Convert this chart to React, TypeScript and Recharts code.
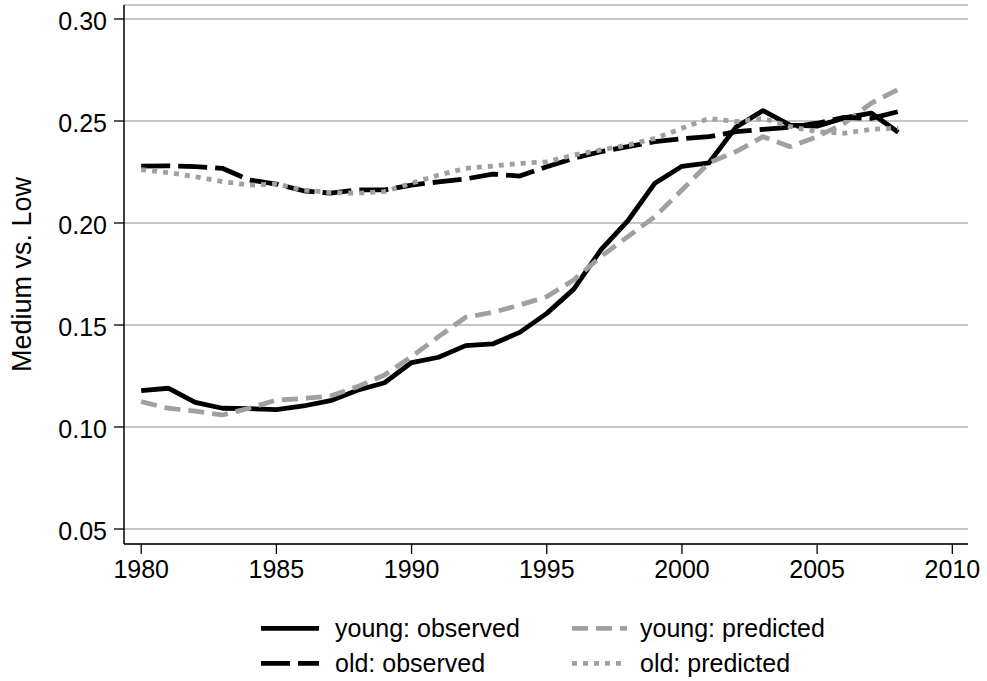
import React from 'react';
import { LineChart, Line, XAxis, YAxis, CartesianGrid, Legend } from 'recharts';

// Medium vs. Low ratio, 1980–2008, by age group
const years = [
  1980, 1981, 1982, 1983, 1984, 1985, 1986, 1987, 1988, 1989,
  1990, 1991, 1992, 1993, 1994, 1995, 1996, 1997, 1998, 1999,
  2000, 2001, 2002, 2003, 2004, 2005, 2006, 2007, 2008,
];

const youngObserved = [
  0.1178, 0.1190, 0.1121, 0.1092, 0.1090, 0.1085, 0.1103, 0.1129, 0.1180, 0.1217,
  0.1316, 0.1342, 0.1399, 0.1407, 0.1464, 0.1557, 0.1676, 0.1868, 0.2011, 0.2195,
  0.2278, 0.2295, 0.2470, 0.2551, 0.2480, 0.2475, 0.2515, 0.2539, 0.2445,
];

const youngPredicted = [
  0.1124, 0.1092, 0.1078, 0.1059, 0.1092, 0.1132, 0.1140, 0.1152, 0.1198, 0.1255,
  0.1345, 0.1443, 0.1538, 0.1562, 0.1598, 0.1639, 0.1721, 0.1835, 0.1933, 0.2031,
  0.2162, 0.2295, 0.2350, 0.2423, 0.2374, 0.2423, 0.2489, 0.2587, 0.2655,
];

const oldObserved = [
  0.2279, 0.2280, 0.2276, 0.2268, 0.2211, 0.2191, 0.2158, 0.2146, 0.2162, 0.2162,
  0.2186, 0.2202, 0.2216, 0.2240, 0.2230, 0.2276, 0.2317, 0.2350, 0.2374, 0.2399,
  0.2413, 0.2423, 0.2448, 0.2459, 0.2469, 0.2489, 0.2518, 0.2513, 0.2546,
];

const oldPredicted = [
  0.2262, 0.2247, 0.2227, 0.2203, 0.2186, 0.2191, 0.2162, 0.2149, 0.2146, 0.2154,
  0.2195, 0.2235, 0.2268, 0.2279, 0.2292, 0.2300, 0.2333, 0.2358, 0.2382, 0.2415,
  0.2464, 0.2513, 0.2497, 0.2513, 0.2472, 0.2448, 0.2440, 0.2459, 0.2465,
];

const xTicks = [1980, 1985, 1990, 1995, 2000, 2005, 2010];
const yTicks = [0.05, 0.1, 0.15, 0.2, 0.25, 0.3];

const rows = years.map((year, i) => ({
  year,
  youngObserved: youngObserved[i],
  youngPredicted: youngPredicted[i],
  oldObserved: oldObserved[i],
  oldPredicted: oldPredicted[i],
}));

const FONT = '"Liberation Sans", Arial, Helvetica, sans-serif';
const FS = 25;
const TITLE_FS = 27;
const GRAY = '#a0a0a0';
const LINE_W = 4.8;

type SeriesDef = { key: string; name: string; color: string; dash?: string };

const series: SeriesDef[] = [
  { key: 'youngObserved', name: 'young: observed', color: '#000000' },
  { key: 'youngPredicted', name: 'young: predicted', color: GRAY, dash: '16 8' },
  { key: 'oldObserved', name: 'old: observed', color: '#000000', dash: '29 8' },
  { key: 'oldPredicted', name: 'old: predicted', color: GRAY, dash: '5 6' },
];

const YTick = (props: any) => {
  const { x, y, payload } = props;
  return (
    <text x={x - 7} y={y + 10.6} textAnchor="end" fontSize={FS} fontFamily={FONT} fill="#000">
      {Number(payload.value).toFixed(2)}
    </text>
  );
};

const XTick = (props: any) => {
  const { x, y, payload } = props;
  return (
    <text x={x} y={y + 24.3} textAnchor="middle" fontSize={FS} fontFamily={FONT} fill="#000">
      {payload.value}
    </text>
  );
};

const YTitle = (props: any) => {
  const vb = props.viewBox || { y: 0, height: 0 };
  const cy = vb.y + vb.height / 2;
  const cx = 31;
  return (
    <text
      x={cx}
      y={cy}
      transform={`rotate(-90 ${cx} ${cy})`}
      textAnchor="middle"
      fontSize={TITLE_FS}
      fontFamily={FONT}
      fill="#000"
    >
      Medium vs. Low
    </text>
  );
};

// Two-column legend, filled row by row in series order
const symbolX = [261, 572];
const symbolW = [58, 55];
const textX = [335, 640];
const rowY = [18.3, 53.3];

const renderLegend = (props: any) => {
  const payload: any[] = props.payload || [];
  const ordered = series
    .map((s) => ({ def: s, entry: payload.find((p) => p.dataKey === s.key) }))
    .filter((o) => o.entry);
  return (
    <svg width={987} height={70} style={{ display: 'block' }}>
      {ordered.map(({ def, entry }, i) => {
        const col = i % 2;
        const row = Math.floor(i / 2);
        const y = rowY[row];
        return (
          <g key={def.key}>
            <line
              x1={symbolX[col]}
              x2={symbolX[col] + symbolW[col]}
              y1={y}
              y2={y}
              stroke={entry.color || def.color}
              strokeWidth={LINE_W}
              strokeDasharray={def.dash}
              strokeLinecap="butt"
            />
            <text x={textX[col]} y={y + 8.8} fontSize={FS} fontFamily={FONT} fill="#000">
              {entry.value}
            </text>
          </g>
        );
      })}
    </svg>
  );
};

export default function App() {
  return (
    <div style={{ position: 'absolute', left: 0, top: 0, width: 987, height: 681, background: '#fff' }}>
      <LineChart
        width={987}
        height={681}
        data={rows}
        margin={{ top: 5, right: 19, bottom: 97, left: 0 }}
      >
        <CartesianGrid horizontal vertical={false} stroke="#b4b4b4" strokeWidth={1.5} />
        <XAxis
          dataKey="year"
          type="number"
          domain={[1979.364, 2010.58]}
          ticks={xTicks}
          allowDataOverflow
          height={40}
          tickSize={10}
          tickMargin={0}
          tick={<XTick />}
          axisLine={{ stroke: '#000', strokeWidth: 1.5 }}
          tickLine={{ stroke: '#000', strokeWidth: 1.3 }}
        />
        <YAxis
          type="number"
          domain={[0.04265, 0.30686]}
          ticks={yTicks}
          allowDataOverflow
          width={124}
          tickSize={10}
          tickMargin={0}
          tick={<YTick />}
          axisLine={{ stroke: '#000', strokeWidth: 1.5 }}
          tickLine={{ stroke: '#000', strokeWidth: 1.3 }}
          label={<YTitle />}
        />
        {series.map((s) => (
          <Line
            key={s.key}
            dataKey={s.key}
            name={s.name}
            type="linear"
            stroke={s.color}
            strokeWidth={LINE_W}
            strokeDasharray={s.dash}
            strokeLinecap="butt"
            strokeLinejoin="round"
            dot={false}
            activeDot={false}
            isAnimationActive={false}
          />
        ))}
        <Legend
          layout="horizontal"
          verticalAlign="middle"
          align="center"
          wrapperStyle={{ left: 0, top: 610, width: 987, height: 70 }}
          content={renderLegend}
        />
      </LineChart>
    </div>
  );
}
